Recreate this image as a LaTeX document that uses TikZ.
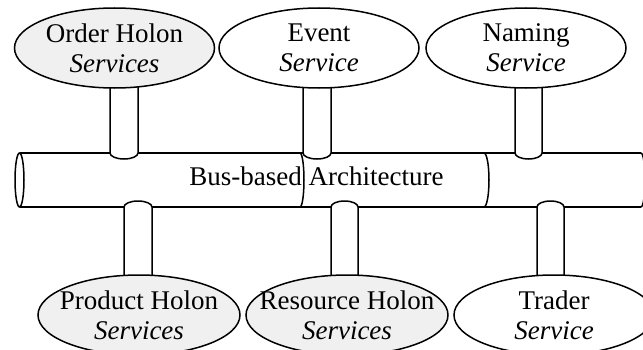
\documentclass[tikz,border=0pt]{standalone}
\usepackage{fontspec}
\setmainfont{Liberation Serif}
\usetikzlibrary{shapes.geometric}

\tikzset{
  holon/.style={ellipse,draw,fill=black!6,minimum width=200pt,minimum height=80pt,
    inner xsep=-40pt,inner ysep=0pt,align=center,font=\fontsize{27}{30}\selectfont},
  service/.style={holon,fill=white},
  pipe/.style={draw,fill=white},
}

\begin{document}
\begin{tikzpicture}[x=1pt,y=1pt,line width=1.5pt]

      \useasboundingbox (0,0) rectangle (643,349);
      \clip (0,0) rectangle (643,349);

      % bus
      \draw (19.5,196) -- (641,196);
      \draw (19.5,142) -- (641,142);
      \draw (19.5,169) ellipse [x radius=4.5,y radius=27];
      \draw (300,196) arc[start angle=90,end angle=-90,x radius=4,y radius=27];
      \draw (484,196) arc[start angle=90,end angle=-90,x radius=5,y radius=27];
      \draw (641,196) arc[start angle=90,end angle=-90,x radius=4,y radius=27];

      % pipes to the bus
      \begin{scope}[every path/.style={pipe}]
        \path (110,290) -- (110,196) arc[start angle=180,end angle=360,x radius=14,y radius=6] -- (138,290);
        \path (303,290) -- (303,196) arc[start angle=180,end angle=360,x radius=14,y radius=6] -- (331,290);
        \path (515,290) -- (515,196) arc[start angle=180,end angle=360,x radius=13.5,y radius=6] -- (542,290);
        \path (124,60) -- (124,142) arc[start angle=180,end angle=0,x radius=14,y radius=6] -- (152,60);
        \path (331,60) -- (331,142) arc[start angle=180,end angle=0,x radius=13.5,y radius=6] -- (358,60);
        \path (537,60) -- (537,142) arc[start angle=180,end angle=0,x radius=13.5,y radius=6] -- (564,60);
      \end{scope}

      \node (bus) at (316.5,164) [anchor=base,font=\fontsize{27}{30}\selectfont] {Bus-based Architecture};

      \node (order)    at (114.5,301) [holon]   {Order Holon\\\textit{Services}};
      \node (event)    at (319,301)   [service] {Event\\\textit{Service}};
      \node (naming)   at (526,301)   [service] {Naming\\\textit{Service}};
      \node (product)  at (139,34)    [holon,minimum width=202pt]   {Product Holon\\\textit{Services}};
      \node (resource) at (347,34)    [holon,minimum width=202pt]   {Resource Holon\\\textit{Services}};
      \node (trader)   at (554,34)    [service] {Trader\\\textit{Service}};

    \end{tikzpicture}
\end{document}
